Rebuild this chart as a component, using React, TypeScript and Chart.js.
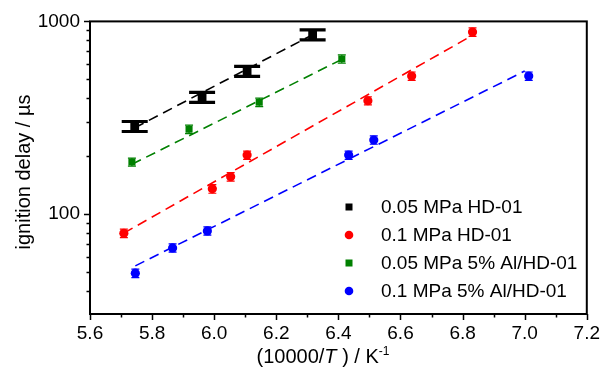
import React, { useEffect, useRef } from 'react';
import { Chart, registerables } from 'chart.js';

Chart.register(...registerables);

const FONT = "'Liberation Sans', Arial, sans-serif";

const seriesLabels = ['0.05 MPa HD-01', '0.1 MPa HD-01', '0.05 MPa 5% Al/HD-01', '0.1 MPa 5% Al/HD-01'];
const seriesColors = ['#000000', '#ff0000', '#008000', '#0000ff'];

// 0.05 MPa HD-01
const blackX = [5.744, 5.961, 6.106, 6.317];
const blackY = [285, 404, 551, 852];
const blackErr = [17, 24, 33, 51];
const blackFitX = [5.744, 6.316];
const blackFitY = [280, 851];

// 0.1 MPa HD-01
const redX = [5.709, 5.994, 6.053, 6.106, 6.495, 6.636, 6.832];
const redY = [79.3, 135, 156, 202, 387, 520, 881];
const redErr = [4, 7, 8, 10, 19, 26, 44];
const redFitX = [5.709, 6.832];
const redFitY = [79.5, 847];

// 0.05 MPa 5% Al/HD-01
const greenX = [5.735, 5.919, 6.145, 6.411];
const greenY = [186, 275, 380, 638];
const greenErr = [9, 14, 19, 32];
const greenFitX = [5.735, 6.411];
const greenFitY = [181, 635];

// 0.1 MPa 5% Al/HD-01
const blueX = [5.746, 5.866, 5.978, 6.433, 6.514, 7.013];
const blueY = [49.2, 66.6, 81.6, 202, 242, 520];
const blueErr = [2.5, 3.3, 4, 10, 12, 26];
const blueFitX = [5.746, 7.0];
const blueFitY = [53.7, 552];

const xMajorTicks = [5.6, 5.8, 6.0, 6.2, 6.4, 6.6, 6.8, 7.0, 7.2];
const xMinorTicks = [5.7, 5.9, 6.1, 6.3, 6.5, 6.7, 6.9, 7.1];
const yMajorTicks = [100, 1000];
const yMinorTicks = [40, 50, 60, 70, 80, 90, 200, 300, 400, 500, 600, 700, 800, 900];

const X_MIN = 5.6;
const X_MAX = 7.2;
const Y_MIN = 30.2;
const Y_MAX = 1000;

const zip = (xs: number[], ys: number[]) => xs.map((x, i) => ({ x, y: ys[i] }));

const decorPlugin = {
  id: 'decor',
  afterDatasetsDraw(chart: any) {
    const ctx = chart.ctx;
    const ys = chart.scales.y;
    chart.data.datasets.forEach((ds: any, di: number) => {
      if (!ds.errorBars) return;
      const meta = chart.getDatasetMeta(di);
      ctx.save();
      ctx.strokeStyle = ds.borderColor;
      ctx.lineWidth = ds.errLineWidth;
      meta.data.forEach((pt: any, i: number) => {
        const v = ds.data[i].y;
        const e = ds.errorBars[i];
        const yTop = ys.getPixelForValue(v + e);
        const yBot = ys.getPixelForValue(v - e);
        const x = pt.x;
        const hw = ds.capWidth / 2;
        ctx.beginPath();
        ctx.moveTo(x, yTop);
        ctx.lineTo(x, yBot);
        ctx.moveTo(x - hw, yTop);
        ctx.lineTo(x + hw, yTop);
        ctx.moveTo(x - hw, yBot);
        ctx.lineTo(x + hw, yBot);
        ctx.stroke();
      });
      ctx.restore();
    });
  },
  afterDraw(chart: any) {
    const ctx = chart.ctx;
    const { left, right, top, bottom } = chart.chartArea;
    const xs = chart.scales.x;
    const ys = chart.scales.y;
    ctx.save();
    // frame
    ctx.strokeStyle = '#000';
    ctx.lineWidth = 2;
    ctx.strokeRect(left, top, right - left, bottom - top);
    // ticks
    ctx.lineWidth = 1.5;
    ctx.beginPath();
    xMajorTicks.forEach((v) => {
      const px = Math.round(xs.getPixelForValue(v)) + 0.5;
      ctx.moveTo(px, bottom);
      ctx.lineTo(px, bottom + 6);
    });
    xMinorTicks.forEach((v) => {
      const px = Math.round(xs.getPixelForValue(v)) + 0.5;
      ctx.moveTo(px, bottom);
      ctx.lineTo(px, bottom + 3.5);
    });
    yMajorTicks.forEach((v) => {
      const py = Math.round(ys.getPixelForValue(v)) + 0.5;
      ctx.moveTo(left, py);
      ctx.lineTo(left - 6, py);
    });
    yMinorTicks.forEach((v) => {
      const py = Math.round(ys.getPixelForValue(v)) + 0.5;
      ctx.moveTo(left, py);
      ctx.lineTo(left - 3.5, py);
    });
    ctx.stroke();

    // y title
    ctx.fillStyle = '#000';
    ctx.font = `20px ${FONT}`;
    ctx.textAlign = 'center';
    ctx.textBaseline = 'middle';
    ctx.save();
    ctx.translate(24, 172);
    ctx.rotate(-Math.PI / 2);
    ctx.fillText('ignition delay / \u00b5s', 0, 0);
    ctx.restore();

    // x title: (10000/T) / K^-1
    const parts = [
      { t: '(10000/', f: `20px ${FONT}`, dy: 0 },
      { t: 'T', f: `italic 20px ${FONT}`, dy: 0 },
      { t: ' ) / K', f: `20px ${FONT}`, dy: 0 },
      { t: '-1', f: `12px ${FONT}`, dy: -8 },
    ];
    let total = 0;
    parts.forEach((p) => {
      ctx.font = p.f;
      total += ctx.measureText(p.t).width;
    });
    let cx = 323 - total / 2;
    const baseY = 363;
    ctx.textAlign = 'left';
    ctx.textBaseline = 'alphabetic';
    parts.forEach((p) => {
      ctx.font = p.f;
      ctx.fillText(p.t, cx, baseY + p.dy);
      cx += ctx.measureText(p.t).width;
    });

    // legend
    const legendX = 349;
    const textX = 381;
    ctx.font = `19px ${FONT}`;
    ctx.textBaseline = 'middle';
    seriesLabels.forEach((lab, i) => {
      const y = 207 + 28 * i;
      ctx.fillStyle = seriesColors[i];
      if (i === 0 || i === 2) {
        ctx.fillRect(legendX - 3.5, y - 3.5, 7, 7);
      } else {
        ctx.beginPath();
        ctx.arc(legendX, y, 4.3, 0, Math.PI * 2);
        ctx.fill();
      }
      ctx.fillStyle = '#000';
      ctx.fillText(lab, textX, y + 1);
    });
    ctx.restore();
  },
};

export default function App() {
  const ref = useRef<HTMLCanvasElement | null>(null);

  useEffect(() => {
    if (!ref.current) return;
    const pointDs = (i: number, xs: number[], ys: number[], err: number[], style: string, radius: number, capWidth: number, errLineWidth: number) => ({
      type: 'scatter',
      label: seriesLabels[i],
      data: zip(xs, ys),
      showLine: false,
      pointStyle: style,
      pointRadius: radius,
      pointBackgroundColor: seriesColors[i],
      pointBorderColor: seriesColors[i],
      pointBorderWidth: 0,
      borderColor: seriesColors[i],
      backgroundColor: seriesColors[i],
      errorBars: err,
      capWidth,
      errLineWidth,
    });
    const fitDs = (i: number, xs: number[], ys: number[]) => ({
      type: 'scatter',
      label: seriesLabels[i] + ' fit',
      data: zip(xs, ys),
      showLine: true,
      pointRadius: 0,
      borderColor: seriesColors[i],
      borderWidth: 1.6,
      borderDash: [10, 6],
      fill: false,
    });

    const chart = new Chart(ref.current, {
      type: 'scatter',
      data: {
        datasets: [
          pointDs(0, blackX, blackY, blackErr, 'rect', 6.2, 26, 3.2),
          pointDs(1, redX, redY, redErr, 'circle', 4.6, 8, 1.2),
          pointDs(2, greenX, greenY, greenErr, 'rect', 5.0, 8, 1.2),
          pointDs(3, blueX, blueY, blueErr, 'circle', 4.6, 8, 1.2),
          fitDs(0, blackFitX, blackFitY),
          fitDs(1, redFitX, redFitY),
          fitDs(2, greenFitX, greenFitY),
          fitDs(3, blueFitX, blueFitY),
        ] as any,
      },
      options: {
        responsive: false,
        animation: false,
        devicePixelRatio: 1,
        layout: { padding: { left: 0, right: 18, top: 16, bottom: 0 } },
        plugins: {
          legend: { display: false },
          tooltip: { enabled: false },
        },
        scales: {
          x: {
            type: 'linear',
            min: X_MIN,
            max: X_MAX,
            afterFit: (s: any) => { s.height = 59; },
            afterBuildTicks: (s: any) => { s.ticks = xMajorTicks.map((v) => ({ value: v })); },
            grid: { display: false, drawTicks: false },
            border: { display: false },
            ticks: {
              padding: 8,
              color: '#000',
              font: { family: FONT, size: 19 },
              callback: (v: any) => Number(v).toFixed(1),
              maxRotation: 0,
              autoSkip: false,
            },
          },
          y: {
            type: 'logarithmic',
            min: Y_MIN,
            max: Y_MAX,
            afterFit: (s: any) => { s.width = 90; },
            afterBuildTicks: (s: any) => { s.ticks = yMajorTicks.map((v) => ({ value: v })); },
            grid: { display: false, drawTicks: false },
            border: { display: false },
            ticks: {
              padding: 10,
              color: '#000',
              font: { family: FONT, size: 19 },
              callback: (v: any) => String(v),
              autoSkip: false,
            },
          },
        },
      } as any,
      plugins: [decorPlugin],
    });
    return () => chart.destroy();
  }, []);

  return (
    <div style={{ position: 'absolute', left: 0, top: 0, width: 608, height: 373, background: '#fff' }}>
      <canvas ref={ref} width={608} height={373} />
    </div>
  );
}
